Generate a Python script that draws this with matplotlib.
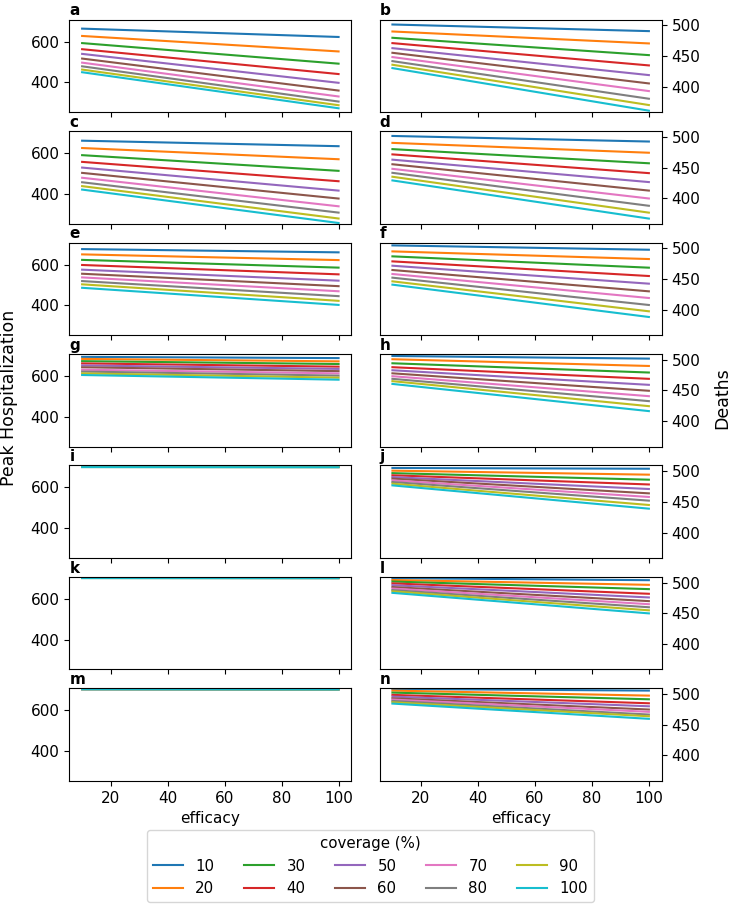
import matplotlib
matplotlib.use("Agg")
import matplotlib.pyplot as plt

efficacy = [10, 100]
coverage = [10, 20, 30, 40, 50, 60, 70, 80, 90, 100]

# (value at efficacy 10, value at efficacy 100) for each coverage level
# left column: peak hospitalization
a = [(664, 623), (628, 552), (593, 492), (563, 441), (540, 398),
     (517, 360), (497, 331), (479, 306), (463, 288), (450, 273)]
c = [(661, 634), (625, 570), (590, 513), (557, 462), (529, 416),
     (503, 377), (479, 339), (457, 308), (438, 279), (421, 257)]
e = [(676, 660), (650, 622), (623, 585), (598, 552), (575, 521),
     (555, 494), (537, 469), (519, 445), (503, 422), (486, 402)]
g = [(694, 688), (684, 672), (673, 659), (662, 646), (652, 635),
     (643, 624), (631, 613), (622, 602), (613, 592), (605, 582)]
i = [(703.5, 703.0), (703.1, 702.6), (702.7, 702.2), (702.3, 701.8), (702.0, 701.4),
     (701.6, 701.0), (701.2, 700.6), (700.8, 700.2), (700.4, 699.8), (700.0, 699.4)]
k = [(705.0, 704.8), (704.7, 704.4), (704.4, 704.0), (704.1, 703.6), (703.8, 703.2),
     (703.5, 702.9), (703.2, 702.6), (702.9, 702.3), (702.6, 702.0), (702.3, 701.7)]
m = [(705.5, 705.4), (705.3, 705.1), (705.1, 704.8), (704.9, 704.5), (704.7, 704.2),
     (704.5, 703.9), (704.3, 703.6), (704.1, 703.3), (703.9, 703.0), (703.7, 702.7)]

# right column: deaths
b = [(501.6, 490.8), (490.2, 470.7), (479.9, 451.6), (471.2, 434.8), (463.0, 419.0),
     (455.4, 405.4), (448.4, 392.9), (441.8, 380.4), (435.9, 370.1), (430.4, 360.9)]
d = [(501.6, 492.5), (490.3, 474.2), (480.1, 457.0), (471.5, 440.9), (462.9, 426.3),
     (455.4, 412.4), (447.9, 399.5), (441.4, 387.6), (435.0, 376.4), (429.0, 366.7)]
f = [(504.9, 497.8), (495.1, 482.6), (487.0, 468.5), (478.8, 454.9), (471.7, 442.4),
     (464.7, 429.9), (458.2, 419.0), (452.2, 407.6), (446.2, 397.3), (440.8, 388.0)]
h = [(506.3, 502.0), (501.0, 490.0), (494.4, 479.3), (488.0, 469.0), (483.0, 459.2),
     (478.0, 449.5), (473.3, 440.7), (469.0, 432.6), (465.2, 424.4), (460.7, 416.3)]
j = [(505.4, 504.2), (501.0, 494.5), (497.0, 486.3), (493.5, 478.5), (490.5, 471.1),
     (488.0, 464.0), (485.2, 458.1), (482.5, 452.1), (479.8, 445.0), (477.0, 439.0)]
l = [(507.5, 504.2), (504.5, 496.6), (502.0, 489.6), (499.0, 482.0), (496.0, 476.0),
     (493.0, 470.0), (490.5, 465.0), (488.0, 460.0), (486.0, 455.0), (483.5, 450.0)]
n = [(508.6, 505.9), (505.9, 497.7), (502.6, 491.7), (498.9, 485.2), (496.1, 480.3),
     (493.3, 475.0), (491.2, 471.2), (489.0, 466.8), (486.8, 464.0), (484.7, 459.8)]

left_panels = [("a", a), ("c", c), ("e", e), ("g", g), ("i", i), ("k", k), ("m", m)]
right_panels = [("b", b), ("d", d), ("f", f), ("h", h), ("j", j), ("l", l), ("n", n)]

fig, axes = plt.subplots(7, 2, figsize=(7.31, 9.06), dpi=100, sharex=True)
fig.subplots_adjust(left=0.0948, right=0.9052, top=0.9783, bottom=0.1381,
                    wspace=0.1, hspace=0.205)

for row in range(7):
    for col, panels in enumerate([left_panels, right_panels]):
        ax = axes[row, col]
        letter, vals = panels[row]
        for cov, (v0, v1) in zip(coverage, vals):
            ax.plot(efficacy, [v0, v1], label=str(cov))
        ax.set_title(letter, loc="left", fontweight="bold", fontsize=11, pad=3)
        if col == 0:
            ax.set_ylim(254, 708)
            ax.set_yticks([400, 600])
        else:
            ax.set_ylim(358.5, 509.5)
            ax.set_yticks([400, 450, 500])
            ax.yaxis.tick_right()
        ax.set_xticks([20, 40, 60, 80, 100])
        ax.tick_params(labelsize=11)
    axes[row, 0].set_xlim(5.5, 104.5)

axes[-1, 0].set_xlabel("efficacy", fontsize=11)
axes[-1, 1].set_xlabel("efficacy", fontsize=11)

fig.text(0.0123, 0.561, "Peak Hospitalization", rotation=90, fontsize=12.5,
         ha="center", va="center")
fig.text(0.988, 0.561, "Deaths", rotation=90, fontsize=12.5,
         ha="center", va="center")

handles, labels = axes[0, 0].get_legend_handles_labels()
fig.legend(handles, labels, title="coverage (%)", ncol=5, loc="lower center",
           bbox_to_anchor=(0.507, -0.004), fontsize=10.8, title_fontsize=10.8)

fig.savefig("out.png", dpi=100)
